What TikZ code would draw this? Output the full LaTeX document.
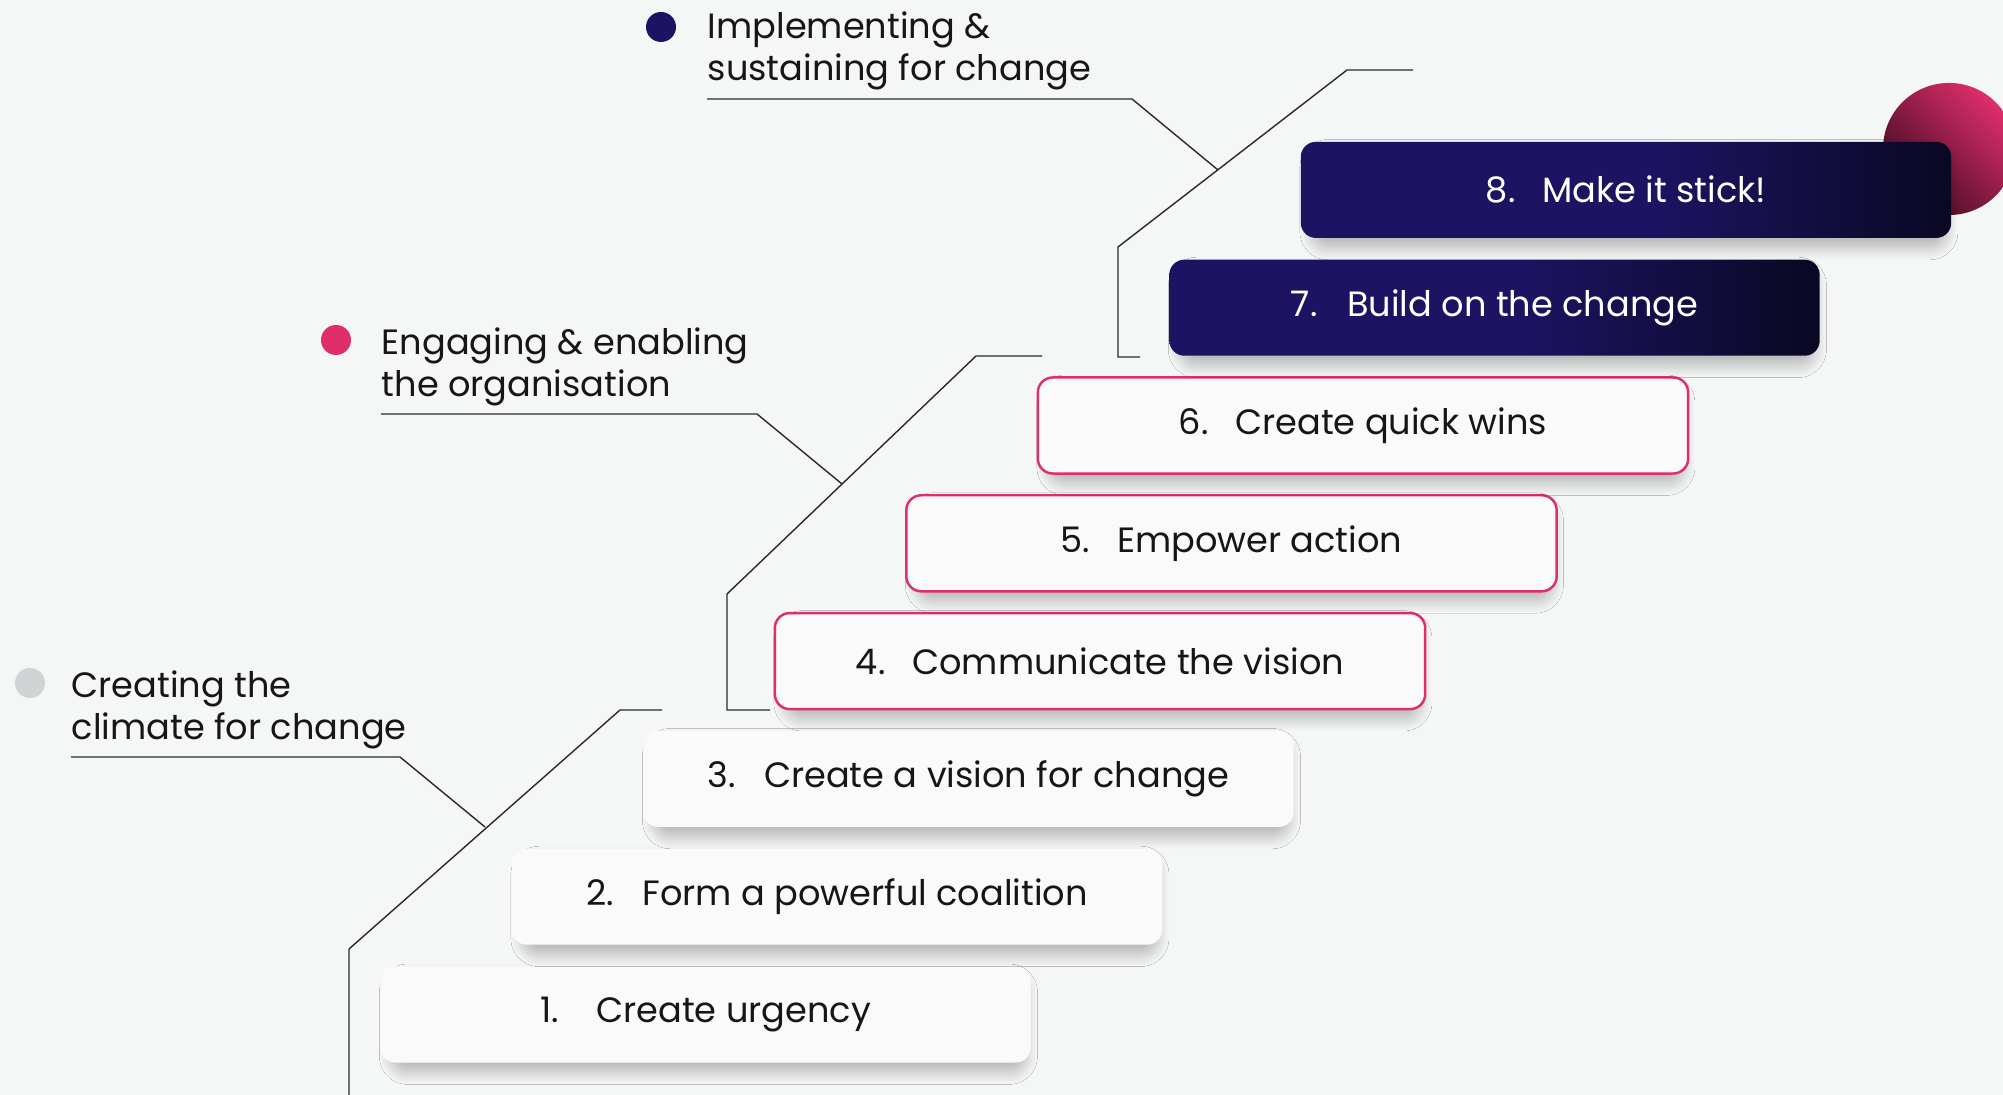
\documentclass[tikz,border=0pt]{standalone}
\usepackage{fontspec}
\setmainfont{Poppins}
\usetikzlibrary{shadows.blur}

\definecolor{kotbg}{HTML}{F5F6F6}
\definecolor{kotbox}{HTML}{FAFAFA}
\definecolor{kotgrey}{HTML}{D1D3D4}
\definecolor{kotpink}{HTML}{DF2E6B}
\definecolor{kotnavy}{HTML}{1C1462}
\definecolor{kotdark}{HTML}{0A0823}
\definecolor{kotmaroon}{HTML}{3D0B20}
\definecolor{kotline}{HTML}{2A2A2A}
\definecolor{kotink}{HTML}{161616}

\pgfdeclarehorizontalshading{navyshade}{100bp}{color(0bp)=(kotnavy); color(25bp)=(kotnavy); color(52bp)=(kotnavy); color(75bp)=(kotdark); color(100bp)=(kotdark)}

\newcommand{\stepno}[1]{\makebox[1.6em][l]{#1}}

\tikzset{
  stepbox/.style={rounded corners=0.15cm, minimum width=6.5cm, minimum height=0.96cm, inner sep=0pt,
    font=\fontsize{10}{12}\selectfont,
    blur shadow={shadow xshift=0.03cm, shadow yshift=-0.1cm, shadow scale=0.97,
      shadow blur radius=0.14cm, shadow blur steps=20, shadow opacity=30}},
  climbox/.style={stepbox, fill=kotbox, text=kotink},
  engagebox/.style={stepbox, fill=kotbox, draw=kotpink, line width=0.7pt, text=kotink},
  sustainbox/.style={stepbox, shading=navyshade, text=white},
  phasetext/.style={anchor=base west, inner sep=0pt, text=kotink, font=\fontsize{10}{12}\selectfont},
  phasedot/.style={circle, inner sep=0pt, minimum size=0.3cm},
  bracket/.style={draw=kotline, line width=0.4pt},
}

\begin{document}
\begin{tikzpicture}[x=0.01cm, y=-0.01cm]
  \clip (0,0) rectangle (2003,1095);
  \fill[kotbg] (0,0) rectangle (2003,1095);

  %%blob behind step 8
  \shade[left color=kotmaroon, right color=kotpink, shading angle=135] (1949,149) circle[radius=0.66cm];

  %%phase labels
  \node[phasedot, fill=kotgrey] (climdot) at (30,683) {};
  \node[phasetext] (climA) at (71,698) {Creating the};
  \node[phasetext] (climB) at (71,740) {climate for change};

  \node[phasedot, fill=kotpink] (engdot) at (336,340) {};
  \node[phasetext] (engA) at (381,355) {Engaging \& enabling};
  \node[phasetext] (engB) at (381,397) {the organisation};

  \node[phasedot, fill=kotnavy] (susdot) at (661,27) {};
  \node[phasetext] (susA) at (707,39) {Implementing \&};
  \node[phasetext] (susB) at (707,81) {sustaining for change};

  %%bracket 1
  \coordinate (clim0) at (349,1095);
  \coordinate (clim1) at (349,949);
  \coordinate (clim2) at (620,710);
  \coordinate (clim3) at (662,710);
  \coordinate (climU0) at (71,757);
  \coordinate (climU1) at (400,757);
  \coordinate (climJ) at (485,827);
  \draw[bracket] (clim0) -- (clim1) -- (clim2) -- (clim3);
  \draw[bracket] (climU0) -- (climU1) -- (climJ);

  %%bracket 2
  \coordinate (eng0) at (770,710);
  \coordinate (eng1) at (727,710);
  \coordinate (eng2) at (727,594);
  \coordinate (eng3) at (976,356);
  \coordinate (eng4) at (1042,356);
  \coordinate (engU0) at (381,414);
  \coordinate (engU1) at (757,414);
  \coordinate (engJ) at (842,484);
  \draw[bracket] (eng0) -- (eng1) -- (eng2) -- (eng3) -- (eng4);
  \draw[bracket] (engU0) -- (engU1) -- (engJ);

  %%bracket 3
  \coordinate (sus0) at (1140,357);
  \coordinate (sus1) at (1118,357);
  \coordinate (sus2) at (1118,247);
  \coordinate (sus3) at (1347,70);
  \coordinate (sus4) at (1413,70);
  \coordinate (susU0) at (707,99);
  \coordinate (susU1) at (1132,99);
  \coordinate (susJ) at (1218,170);
  \draw[bracket] (sus0) -- (sus1) -- (sus2) -- (sus3) -- (sus4);
  \draw[bracket] (susU0) -- (susU1) -- (susJ);

  %%steps
  \node[climbox] (step1) at (705.5,1014.5) {\stepno{1.}Create urgency};
  \node[climbox] (step2) at (837,896.7) {\stepno{2.}Form a powerful coalition};
  \node[climbox] (step3) at (968.5,778.9) {\stepno{3.}Create a vision for change};
  \node[engagebox] (step4) at (1100,661.1) {\stepno{4.}Communicate the vision};
  \node[engagebox] (step5) at (1231.5,543.3) {\stepno{5.}Empower action};
  \node[engagebox] (step6) at (1363,425.5) {\stepno{6.}Create quick wins};
  \node[sustainbox] (step7) at (1494.5,307.7) {\stepno{7.}Build on the change};
  \node[sustainbox] (step8) at (1626,189.9) {\stepno{8.}Make it stick!};
\end{tikzpicture}
\end{document}
